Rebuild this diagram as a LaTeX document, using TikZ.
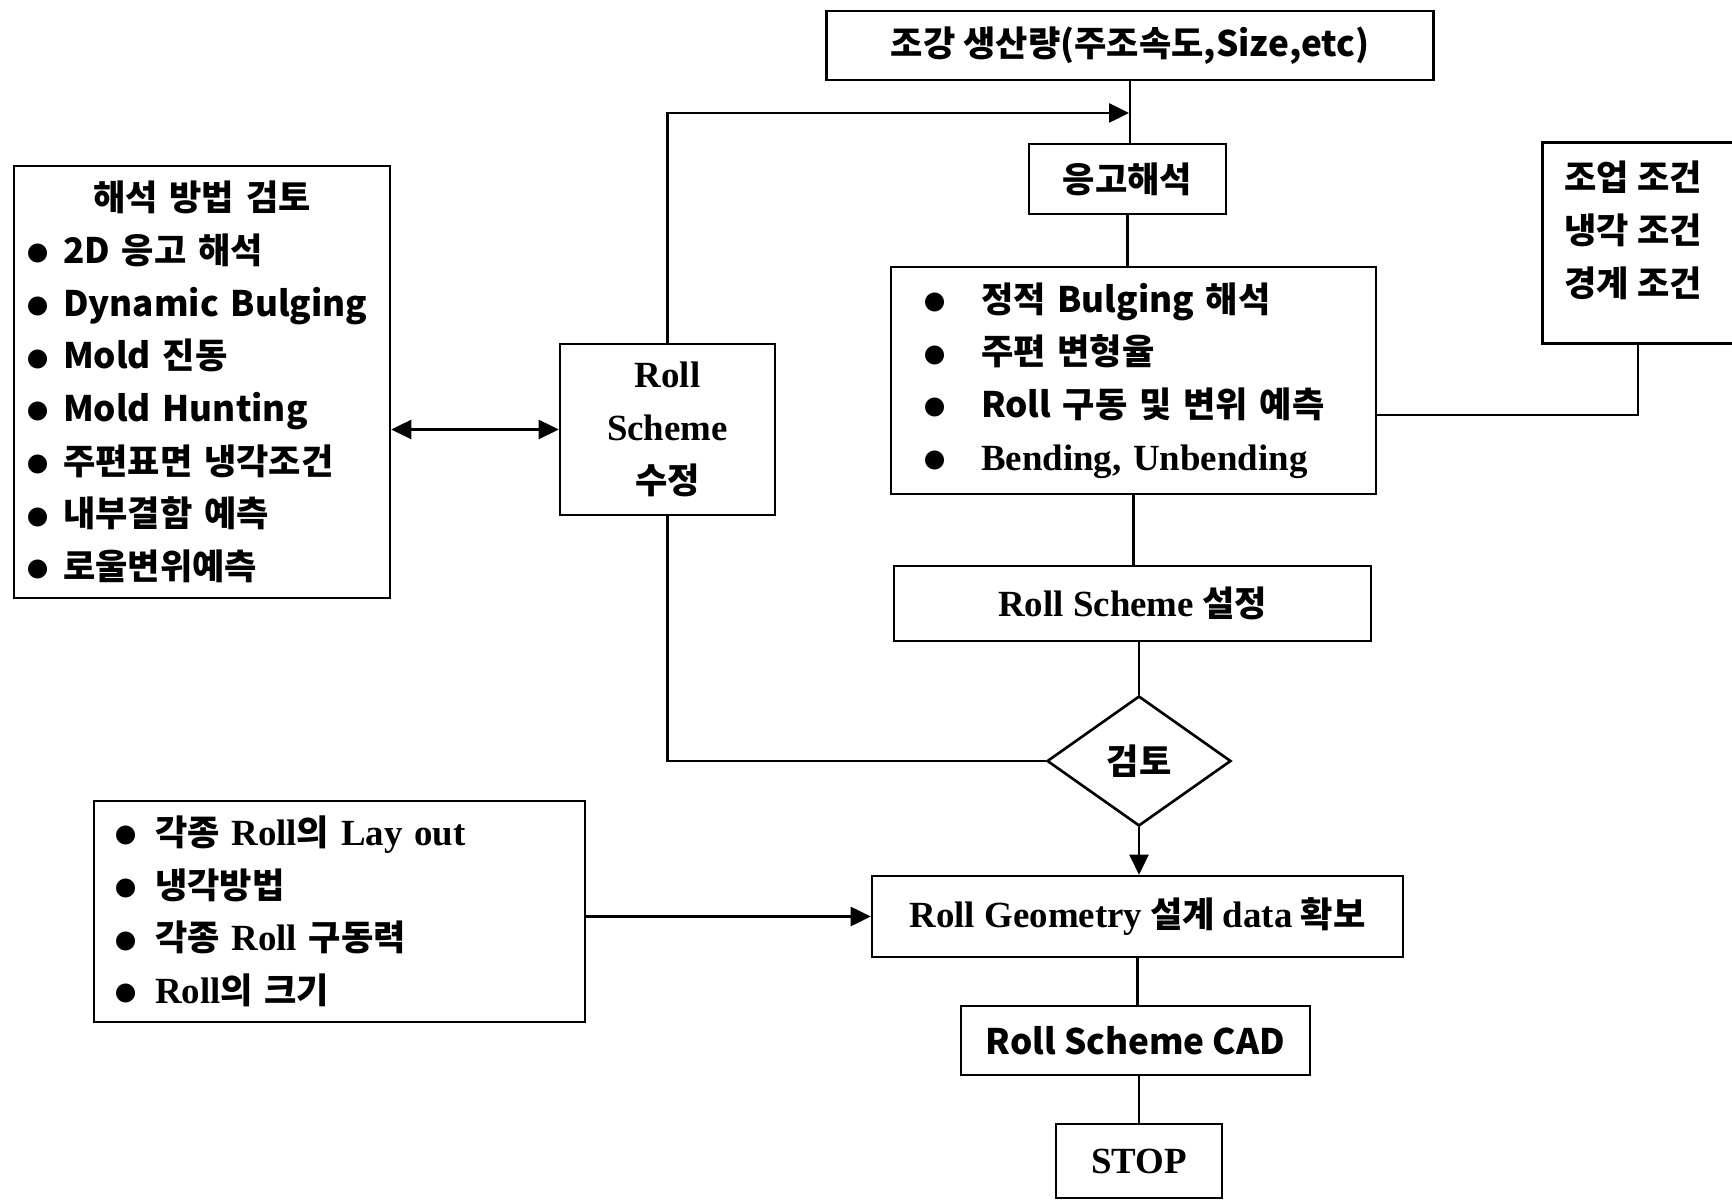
\documentclass[tikz,border=0pt]{standalone}
\usepackage{fontspec}
\setmainfont{Noto Sans CJK KR}
\newfontfamily\srf{Liberation Serif}[Scale=1.05]
\usepackage{tikz}
\usetikzlibrary{arrows.meta,shapes.geometric}
\newcommand{\bul}[1]{\makebox[#1][l]{\raisebox{0.05em}{\fontsize{12}{12}\selectfont ●}}}

\begin{document}
\begin{tikzpicture}[x=0.02cm,y=-0.02cm,>={Triangle[length=0.4cm,width=0.38cm]},line width=1.5pt,
  font=\fontsize{20}{30}\selectfont\bfseries]
  \tikzstyle{box}=[draw,line width=1.5pt,inner sep=0pt,align=center]
  \tikzstyle{listbox}=[box,align=left]
\useasboundingbox (0,0) rectangle (1732,1202);
\node[box,minimum width=12.14cm,minimum height=1.38cm] (prod) at (1130,45.5) {조강 생산량(주조속도,Size,etc)};
\node[box,minimum width=3.94cm,minimum height=1.4cm] (solid) at (1127.5,179) {응고해석};
\node[listbox,minimum width=9.7cm,minimum height=4.54cm,text width=8.38cm] (anal) at (1133.5,380.5)
  {\bul{1.14cm}정적 Bulging 해석\\ \bul{1.14cm}주편 변형율\\ \bul{1.14cm}Roll 구동 및 변위 예측\\ \bul{1.14cm}{\srf Bending, Unbending}};
\node[box,minimum width=4.38cm,minimum height=4.02cm,anchor=north west] (cond) at (1541,141) {};
\node[anchor=north west,align=left,inner sep=0pt] (condtxt) at (1563,160) {조업 조건\\냉각 조건\\경계 조건};
\node[box,minimum width=9.54cm,minimum height=1.5cm] (rsset) at (1132.5,603.5) {{\srf Roll Scheme} 설정};
\node[draw,diamond,line width=1.5pt,minimum width=3.68cm,minimum height=2.6cm,inner sep=0pt] (chk) at (1139,761) {검토};
\node[box,minimum width=4.3cm,minimum height=3.42cm] (rsmod) at (667.5,429.5) {{\srf Roll}\\{\srf Scheme}\\수정};
\node[listbox,minimum width=7.52cm,minimum height=8.64cm,text width=7.0cm] (meth) at (202,382)
  {\makebox[7.0cm]{해석 방법 검토}\\ \bul{0.72cm}2D 응고 해석\\ \bul{0.72cm}Dynamic Bulging\\ \bul{0.72cm}Mold 진동\\
   \bul{0.72cm}Mold Hunting\\ \bul{0.72cm}주편표면 냉각조건\\ \bul{0.72cm}내부결함 예측\\ \bul{0.72cm}로울변위예측};
\node[box,minimum width=10.62cm,minimum height=1.62cm] (geo) at (1137.5,916.5) {{\srf Roll Geometry} 설계 {\srf data} 확보};
\node[listbox,minimum width=9.82cm,minimum height=4.42cm,text width=8.98cm] (lay) at (339.5,911.5)
  {\bul{0.8cm}각종 {\srf Roll}의 {\srf Lay out}\\ \bul{0.8cm}냉각방법\\ \bul{0.8cm}각종 {\srf Roll} 구동력\\ \bul{0.8cm}{\srf Roll}의 크기};
\node[box,minimum width=6.98cm,minimum height=1.38cm] (cad) at (1135.5,1040.5) {Roll Scheme CAD};
\node[box,minimum width=3.32cm,minimum height=1.48cm] (stop) at (1139,1161) {\srf STOP};

\coordinate (fb) at (1129,113);
\coordinate (cj) at (1638,415);
\draw (prod.south) -- (prod.south |- solid.north);
\draw[->] (rsmod.north) |- (fb);
\draw (solid.south) -- (solid.south |- anal.north);
\draw (anal.south) -- (anal.south |- rsset.north);
\draw (anal.east |- cj) -- (cj) -- (cj |- cond.south);
\draw (chk.north |- rsset.south) -- (chk.north);
\draw (chk.west) -| (rsmod.south);
\draw[<->] (meth.east |- rsmod.west) -- (rsmod.west);
\draw[->] (chk.south) -- (chk.south |- geo.north);
\draw[->] (lay.east |- geo.west) -- (geo.west);
\draw (geo.south) -- (geo.south |- cad.north);
\draw (stop.north |- cad.south) -- (stop.north);
\end{tikzpicture}
\end{document}
